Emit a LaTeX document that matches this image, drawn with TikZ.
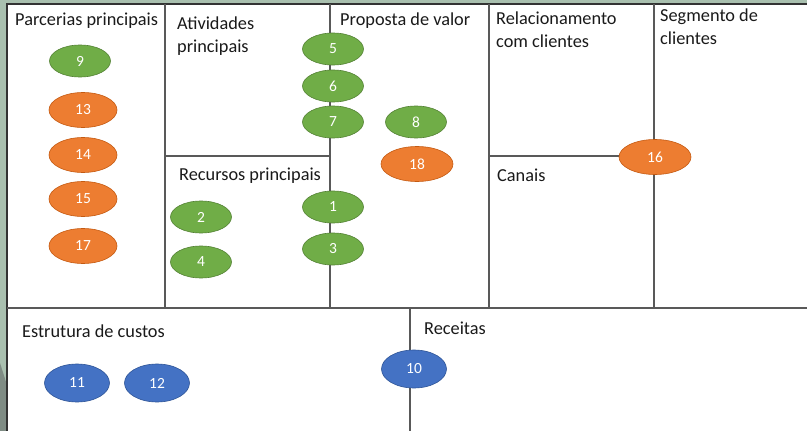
\documentclass[tikz,border=0pt]{standalone}
\usepackage{fontspec}
\setmainfont{Carlito}
\usepackage{xcolor}
\usetikzlibrary{shapes.geometric}

\definecolor{verdeC}{HTML}{70AD47}
\definecolor{verdeB}{HTML}{548235}
\definecolor{laranjaC}{HTML}{ED7D31}
\definecolor{laranjaB}{HTML}{C55A11}
\definecolor{azulC}{HTML}{4472C4}
\definecolor{azulB}{HTML}{2F5597}
\definecolor{fundo}{HTML}{A9C0AF}
\definecolor{fundoE}{HTML}{7F8C84}
\definecolor{texto}{HTML}{1A1A1A}

\tikzset{
  linha/.style={draw=black!65, line width=1.3pt},
  titulo/.style={anchor=base west, inner sep=0pt, text=texto, align=left,
    font=\fontsize{18.3}{23}\selectfont},
  oval/.style={ellipse, inner sep=0pt, line width=0.6pt, text=white,
    font=\fontsize{15.5}{17}\selectfont},
  verde/.style={oval, fill=verdeC, draw=verdeB, minimum width=61pt, minimum height=32pt},
  laranja/.style={oval, fill=laranjaC, draw=laranjaB, minimum width=68pt, minimum height=35pt},
  azul/.style={oval, fill=azulC, draw=azulB, minimum width=65pt, minimum height=38pt},
}

\begin{document}
\begin{tikzpicture}[x=1pt,y=-1pt]
    % Background and frame
    \fill[fundo] (0,0) rectangle (807,431);
    \fill[fundoE] (0,363) -- (7,385) -- (7,431) -- (0,431) -- cycle;
    \fill[white] (7,4) rectangle (807,431);
    \useasboundingbox (0,0) rectangle (807,431);
    \draw[black!80, line width=1.5pt] (7,431) -- (7,4) -- (807,4);

    % Grid lines
    \foreach \x in {165,330,489,654} {
        \draw[linha] (\x,4) -- (\x,308);
    }
    \draw[linha] (165,156) -- (330,156);
    \draw[linha] (489,156) -- (654,156);
    \draw[linha] (7,308) -- (807,308);
    \draw[linha] (410,308) -- (410,431);

    % Block titles
    \node[titulo] (parcerias) at (15,25) {Parcerias principais};
    \node[titulo, anchor=north west] (atividades) at (177,17) {Atividades\\principais};
    \node[titulo] (proposta) at (340,25) {Proposta de valor};
    \node[titulo, anchor=north west] (relacionamento) at (496,12) {Relacionamento\\com clientes};
    \node[titulo, anchor=north west] (segmento) at (660,9) {Segmento de\\clientes};
    \node[titulo] (recursos) at (179,180) {Recursos principais};
    \node[titulo] (canais) at (497,181) {Canais};
    \node[titulo] (custos) at (22,337) {Estrutura de custos};
    \node[titulo] (receitas) at (424,334) {Receitas};

    % Ovals
    \foreach \n/\x/\y in {9/80/61, 5/333/49, 6/333/86, 7/333/122, 8/416/122, 1/333/207, 3/333/249, 2/201/217, 4/201/262} {
        \node[verde] (o\n) at (\x,\y) {\n};
    }
    \foreach \n/\x/\y in {13/83/110, 14/83/155, 15/83/199, 17/83/246} {
        \node[laranja] (o\n) at (\x,\y) {\n};
    }
    \node[laranja, minimum width=72pt] (o18) at (417,164) {18};
    \node[laranja, minimum width=72pt] (o16) at (655,157) {16};
    \foreach \n/\x/\y in {11/77/383, 12/157/383, 10/414/369} {
        \node[azul] (o\n) at (\x,\y) {\n};
    }
\end{tikzpicture}
\end{document}
